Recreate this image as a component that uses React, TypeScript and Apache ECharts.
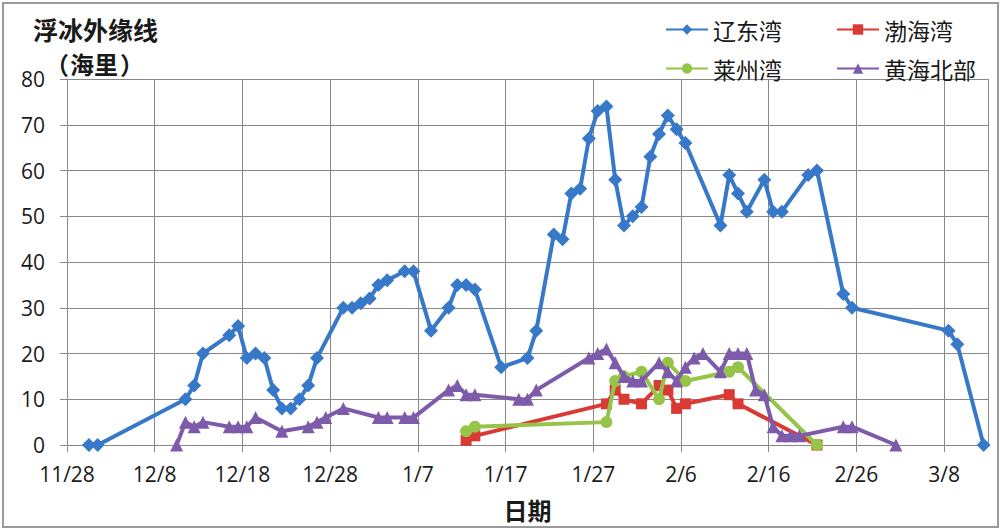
import React, { useEffect, useRef } from "react";
import * as echarts from "echarts";

// Day 0 of the date axis (11/28); Feb has 28 days in this season.
const START = Date.UTC(2014, 10, 28);
const AXIS_DAYS = 105;

const xTickLabels = ["11/28", "12/8", "12/18", "12/28", "1/7", "1/17", "1/27", "2/6", "2/16", "2/26", "3/8"];

// 辽东湾
const liaodongDates = ["11/30", "12/1", "12/11", "12/12", "12/13", "12/16", "12/17", "12/18", "12/19", "12/20", "12/21", "12/22", "12/23", "12/24", "12/25", "12/26", "12/29", "12/30", "12/31", "1/1", "1/2", "1/3", "1/5", "1/6", "1/8", "1/10", "1/11", "1/12", "1/13", "1/16", "1/19", "1/20", "1/22", "1/23", "1/24", "1/25", "1/26", "1/27", "1/28", "1/29", "1/30", "1/31", "2/1", "2/2", "2/3", "2/4", "2/5", "2/6", "2/10", "2/11", "2/12", "2/13", "2/15", "2/16", "2/17", "2/20", "2/21", "2/24", "2/25", "3/8", "3/9", "3/12"];
const liaodongValues = [0, 0, 10, 13, 20, 24, 26, 19, 20, 19, 12, 8, 8, 10, 13, 19, 30, 30, 31, 32, 35, 36, 38, 38, 25, 30, 35, 35, 34, 17, 19, 25, 46, 45, 55, 56, 67, 73, 74, 58, 48, 50, 52, 63, 68, 72, 69, 66, 48, 59, 55, 51, 58, 51, 51, 59, 60, 33, 30, 25, 22, 0];

// 渤海湾
const bohaiDates = ["1/12", "1/13", "1/28", "1/29", "1/30", "2/1", "2/3", "2/4", "2/5", "2/6", "2/11", "2/12", "2/21"];
const bohaiValues = [1, 2, 9, 12, 10, 9, 13, 12, 8, 9, 11, 9, 0];

// 莱州湾
const laizhouDates = ["1/12", "1/13", "1/28", "1/29", "1/30", "2/1", "2/3", "2/4", "2/6", "2/11", "2/12", "2/21"];
const laizhouValues = [3, 4, 5, 14, 15, 16, 10, 18, 14, 16, 17, 0];

// 黄海北部
const huanghaiDates = ["12/10", "12/11", "12/12", "12/13", "12/16", "12/17", "12/18", "12/19", "12/22", "12/25", "12/26", "12/27", "12/29", "1/2", "1/3", "1/5", "1/6", "1/10", "1/11", "1/12", "1/13", "1/18", "1/19", "1/20", "1/26", "1/27", "1/28", "1/29", "1/30", "1/31", "2/1", "2/3", "2/4", "2/5", "2/6", "2/7", "2/8", "2/10", "2/11", "2/12", "2/13", "2/14", "2/15", "2/16", "2/17", "2/18", "2/19", "2/24", "2/25", "3/2"];
const huanghaiValues = [0, 5, 4, 5, 4, 4, 4, 6, 3, 4, 5, 6, 8, 6, 6, 6, 6, 12, 13, 11, 11, 10, 10, 12, 19, 20, 21, 18, 15, 14, 14, 18, 16, 14, 17, 19, 20, 16, 20, 20, 20, 12, 11, 4, 2, 2, 2, 4, 4, 0];

const seriesNames = ["辽东湾", "渤海湾", "莱州湾", "黄海北部"];
const seriesColors = ["#3778C8", "#D93A34", "#96C448", "#7E5BAA"];

// Each date is drawn in the middle of its day slot.
function dayPos(md: string): number {
  const [m, d] = md.split("/").map(Number);
  const year = m >= 11 ? 2014 : 2015;
  return (Date.UTC(year, m - 1, d) - START) / 86400000 + 0.5;
}

function pairs(dates: string[], values: number[]): number[][] {
  return dates.map((d, i) => [dayPos(d), values[i]]);
}

const LABEL_FONT = "'Open Sans', 'Liberation Sans', sans-serif";
const CJK_FONT = "'Noto Sans CJK SC', 'Noto Sans', sans-serif";
const INK = "#1a1a1a";

const unitStyle = { fontFamily: CJK_FONT, fontSize: 24, fontWeight: "bold", fill: INK, textVerticalAlign: "middle" };

export default function App() {
  const ref = useRef<HTMLDivElement>(null);

  useEffect(() => {
    if (!ref.current) return;
    const chart = echarts.init(ref.current, undefined, { renderer: "svg" });

    const lines = [
      { data: pairs(liaodongDates, liaodongValues), symbol: "diamond", symbolSize: 14 },
      { data: pairs(bohaiDates, bohaiValues), symbol: "rect", symbolSize: 11 },
      { data: pairs(laizhouDates, laizhouValues), symbol: "circle", symbolSize: 12 },
      { data: pairs(huanghaiDates, huanghaiValues), symbol: "triangle", symbolSize: 13 },
    ];

    const legendPos = [
      { left: 665, top: 18 },
      { left: 836, top: 18 },
      { left: 665, top: 57 },
      { left: 836, top: 57 },
    ];

    chart.setOption({
      animation: false,
      backgroundColor: "#ffffff",
      title: {
        text: "浮冰外缘线",
        left: 33,
        top: 16,
        padding: 0,
        textStyle: { fontFamily: CJK_FONT, fontSize: 25, fontWeight: "bold", color: INK },
      },
      legend: seriesNames.map((name, i) => ({
        data: [name],
        left: legendPos[i].left,
        top: legendPos[i].top,
        padding: 0,
        itemWidth: 42,
        itemHeight: 13,
        itemGap: 4,
        textStyle: { fontFamily: CJK_FONT, fontSize: 23, color: INK },
      })),
      grid: { left: 67, right: 13, top: 79, bottom: 85 },
      xAxis: {
        type: "value",
        min: 0,
        max: AXIS_DAYS,
        interval: 10,
        name: "日期",
        nameLocation: "middle",
        nameGap: 52,
        nameTextStyle: { fontFamily: CJK_FONT, fontSize: 24, fontWeight: "bold", color: INK },
        axisLine: { show: true, lineStyle: { color: "#888888", width: 1 } },
        axisTick: { show: true, inside: false, length: 7, lineStyle: { color: "#888888" } },
        splitLine: { show: true, lineStyle: { color: "#888888", width: 1 } },
        axisLabel: {
          margin: 18,
          showMaxLabel: false,
          fontFamily: LABEL_FONT,
          fontSize: 21,
          color: INK,
          formatter: (v: number) => xTickLabels[Math.round(v / 10)] ?? "",
        },
      },
      yAxis: {
        type: "value",
        min: 0,
        max: 80,
        interval: 10,
        axisLine: { show: true, lineStyle: { color: "#888888", width: 1 } },
        axisTick: { show: true, inside: false, length: 7, lineStyle: { color: "#888888" } },
        splitLine: { show: true, lineStyle: { color: "#888888", width: 1 } },
        axisLabel: { margin: 22, fontFamily: LABEL_FONT, fontSize: 21, color: INK },
      },
      graphic: [
        // unit line under the title: full-width brackets set as separate pieces
        { type: "text", x: 69, y: 63, style: { ...unitStyle, text: "（", textAlign: "right" } },
        { type: "text", x: 70, y: 63, style: { ...unitStyle, text: "海里", textAlign: "left" } },
        { type: "text", x: 120, y: 63, style: { ...unitStyle, text: "）", textAlign: "left" } },
        {
          type: "rect",
          shape: { x: 3, y: 3, width: 995, height: 524 },
          style: { fill: "none", stroke: "#9a9a9a", lineWidth: 2 },
          silent: true,
          z: 100,
        },
      ],
      series: lines.map((l, i) => ({
        name: seriesNames[i],
        type: "line",
        data: l.data,
        symbol: l.symbol,
        symbolSize: l.symbolSize,
        showAllSymbol: true,
        color: seriesColors[i],
        lineStyle: { width: 4, color: seriesColors[i] },
        itemStyle: { color: seriesColors[i] },
        z: 2 + i,
      })),
    });

    return () => chart.dispose();
  }, []);

  return (
    <div
      ref={ref}
      style={{ position: "absolute", left: 0, top: 0, width: 1001, height: 530 }}
    />
  );
}
